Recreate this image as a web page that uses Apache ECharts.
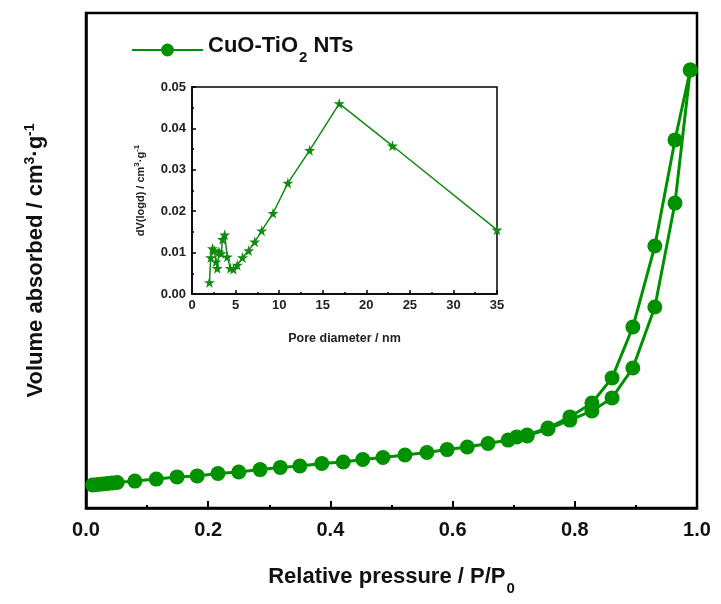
<!DOCTYPE html>
<html>
<head>
<meta charset="utf-8">
<script src="https://cdn.jsdelivr.net/npm/echarts@6/dist/echarts.min.js"></script>
<style>html,body{margin:0;padding:0;background:#fff}#c{width:721px;height:604px}</style>
</head>
<body>
<div id="c"></div>
<script>
// Main isotherm: relative pressure P/P0 and volume (arbitrary cm3/g scale)
const adsP = [0.011,0.019,0.027,0.035,0.043,0.051,0.080,0.115,0.149,0.182,0.216,0.250,0.285,0.318,0.350,0.386,0.421,0.453,0.486,0.522,0.558,0.591,0.624,0.658,0.691,0.722,0.756,0.792,0.828,0.861,0.895,0.931,0.964,0.989];
const adsV = [11.6,11.9,12.1,12.4,12.6,12.9,13.6,14.6,15.7,16.2,17.4,18.2,19.4,20.5,21.2,22.5,23.2,24.5,25.5,26.8,28.0,29.5,30.8,32.6,34.3,36.4,39.9,44.4,49.0,55.6,70.7,101.5,154.0,221.2];
const desP = [0.989,0.964,0.931,0.895,0.861,0.828,0.792,0.756,0.722,0.705];
const desV = [221.2,185.9,132.3,91.4,65.7,53.0,46.0,40.4,36.9,35.9];
// Inset: BJH pore size distribution
const poreD = [2.0,2.15,2.35,2.55,2.75,2.9,3.1,3.35,3.5,3.75,4.05,4.4,4.75,5.2,5.8,6.5,7.2,8.0,9.3,11.0,13.5,16.9,23.0,35.0];
const poreV = [0.0028,0.0088,0.0110,0.0105,0.0078,0.0062,0.0102,0.0098,0.0132,0.0143,0.0090,0.0062,0.0060,0.0070,0.0088,0.0105,0.0126,0.0153,0.0195,0.0268,0.0347,0.0460,0.0358,0.0155];

const F = 'Liberation Sans, Arial, sans-serif';
const G = '#009100';
const G2 = '#118a11';
const star = 'path://M50,0 L61,35 L98,35 L68,57 L79,91 L50,70 L21,91 L32,57 L2,35 L39,35 Z';
const zip = (a,b)=>a.map((v,i)=>[v,b[i]]);

const chart = echarts.init(document.getElementById('c'));
chart.setOption({
  animation:false,
  backgroundColor:'#fff',
  legend:{
    left:126, top:30, itemWidth:71, itemHeight:16, itemGap:6,
    data:['CuO-TiO2 NTs'],
    formatter:()=> '{a|CuO-TiO}{s|2}{a| NTs}',
    textStyle:{
      fontFamily:F, fontWeight:'bold', color:'#000',
      rich:{
        a:{fontFamily:F,fontWeight:'bold',fontSize:22,color:'#111',lineHeight:30,verticalAlign:'top'},
        s:{fontFamily:F,fontWeight:'bold',fontSize:15,color:'#111',lineHeight:30,verticalAlign:'bottom',padding:[10,0,0,1]}
      }
    }
  },
  grid:[
    {left:86,right:24,top:13,bottom:96,show:true,borderColor:'#000',borderWidth:2.5,backgroundColor:'transparent'},
    {left:192,right:224,top:87,bottom:310,show:true,borderColor:'#000',borderWidth:1.5,backgroundColor:'#fff'}
  ],
  xAxis:[
    {gridIndex:0,type:'value',min:0,max:1,interval:0.2,
     axisLine:{show:true,lineStyle:{color:'#000',width:2.5}},
     axisTick:{show:true,inside:true,length:7,lineStyle:{color:'#000',width:2}},
     minorTick:{show:true,splitNumber:2,length:3,lineStyle:{color:'#000',width:2}},
     splitLine:{show:false},
     axisLabel:{margin:12,fontFamily:F,fontWeight:'bold',fontSize:20,color:'#111',formatter:v=>v.toFixed(1)},
     name:'{a|Relative pressure / P/P}{s|0}',nameLocation:'middle',nameGap:58,
     nameTextStyle:{rich:{
       a:{fontFamily:F,fontWeight:'bold',fontSize:22,color:'#111',lineHeight:30,verticalAlign:'top'},
       s:{fontFamily:F,fontWeight:'bold',fontSize:15,color:'#111',lineHeight:30,verticalAlign:'bottom',padding:[9,0,0,1]}
     }}},
    {gridIndex:1,type:'value',min:0,max:35,interval:5,
     axisLine:{show:true,lineStyle:{color:'#000',width:1.5}},
     axisTick:{show:true,inside:true,length:4,lineStyle:{color:'#000',width:1.5}},
     minorTick:{show:true,splitNumber:2,length:2,lineStyle:{color:'#000',width:1.5}},
     splitLine:{show:false},
     axisLabel:{margin:5,fontFamily:F,fontWeight:'bold',fontSize:13,color:'#222'},
     name:'Pore diameter / nm',nameLocation:'middle',nameGap:38,
     nameTextStyle:{fontFamily:F,fontWeight:'bold',fontSize:12.5,color:'#222'}}
  ],
  yAxis:[
    {gridIndex:0,type:'value',min:0,max:250,
     axisLine:{show:true,lineStyle:{color:'#000',width:2.5}},
     axisTick:{show:false},axisLabel:{show:false},splitLine:{show:false},
     name:'{a|Volume absorbed / cm}{p|3}{a|·g}{p|-1}',nameLocation:'middle',nameGap:39,nameRotate:90,
     nameTextStyle:{rich:{
       a:{fontFamily:F,fontWeight:'bold',fontSize:22,color:'#111',lineHeight:24,verticalAlign:'bottom'},
       p:{fontFamily:F,fontWeight:'bold',fontSize:14,color:'#111',lineHeight:24,verticalAlign:'top'}
     }}},
    {gridIndex:1,type:'value',min:0,max:0.05,interval:0.01,
     axisLine:{show:true,lineStyle:{color:'#000',width:1.5}},
     axisTick:{show:true,inside:true,length:4,lineStyle:{color:'#000',width:1.5}},
     minorTick:{show:true,splitNumber:2,length:2,lineStyle:{color:'#000',width:1.5}},
     splitLine:{show:false},
     axisLabel:{margin:6,fontFamily:F,fontWeight:'bold',fontSize:13,color:'#222',formatter:v=>v.toFixed(2)},
     name:'{a|dV(logd) / cm}{p|3}{a|·g}{p|-1}',nameLocation:'middle',nameGap:46,nameRotate:90,
     nameTextStyle:{rich:{
       a:{fontFamily:F,fontWeight:'bold',fontSize:11,color:'#222',lineHeight:13,verticalAlign:'bottom'},
       p:{fontFamily:F,fontWeight:'bold',fontSize:8,color:'#222',lineHeight:13,verticalAlign:'top'}
     }}}
  ],
  series:[
    {name:'CuO-TiO2 NTs',type:'line',xAxisIndex:0,yAxisIndex:0,data:zip(adsP,adsV),
     symbol:'circle',symbolSize:15,lineStyle:{color:G,width:3},itemStyle:{color:G},z:3},
    {name:'CuO-TiO2 NTs',type:'line',xAxisIndex:0,yAxisIndex:0,data:zip(desP,desV),
     symbol:'circle',symbolSize:15,lineStyle:{color:G,width:3},itemStyle:{color:G},z:3},
    {name:'pore',type:'line',xAxisIndex:1,yAxisIndex:1,data:zip(poreD,poreV),
     symbol:star,symbolSize:11,lineStyle:{color:G2,width:1.5},itemStyle:{color:G2},z:5}
  ]
});
</script>
</body>
</html>
